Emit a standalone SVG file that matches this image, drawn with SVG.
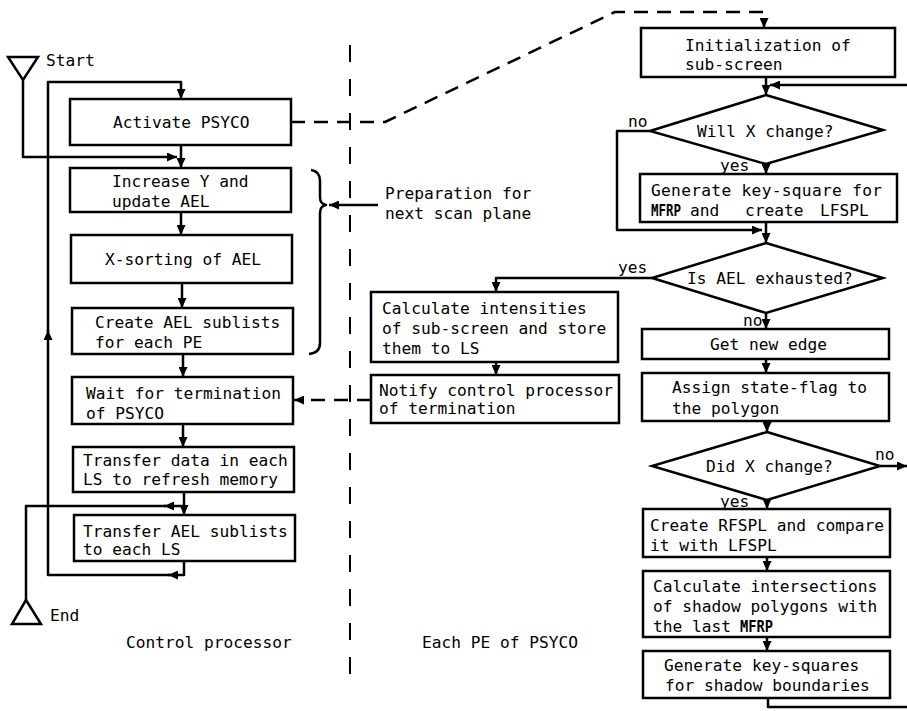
<svg xmlns="http://www.w3.org/2000/svg" width="907" height="711" viewBox="0 0 907 711">
<style>
.box{fill:#fff;stroke:#000;stroke-width:2.5}
.t{font-family:"DejaVu Sans Mono","Liberation Mono",monospace;font-size:16.2px;fill:#000}
.b{font-weight:bold}
.ln{fill:none;stroke:#000;stroke-width:2.5;stroke-linejoin:round}
.ar{marker-end:url(#ah)}
.dash{stroke-dasharray:14 9}
.div{fill:none;stroke:#000;stroke-width:2;stroke-dasharray:17 17}
</style>
<defs>
<marker id="ah" markerUnits="userSpaceOnUse" markerWidth="11" markerHeight="9" refX="10" refY="4.5" orient="auto">
<path d="M0,0 L10,4.5 L0,9 z" fill="#000"/>
</marker>
</defs>
<rect width="907" height="711" fill="#fff"/>
<g id="connectors">
<path class="ln ar" d="M23,80 V157 H177"/>
<path class="ln ar" d="M181,145 V168"/>
<path class="ln ar" d="M181,212 V235"/>
<path class="ln ar" d="M182,283 V308"/>
<path class="ln ar" d="M183,354 V377"/>
<path class="ln ar" d="M183,424 V447"/>
<path class="ln ar" d="M184,492 V515"/>
<path class="ln ar" d="M184,506 H164"/>
<path class="ln" d="M166,506 H26 V600"/>
<path class="ln ar" d="M184,561 V575 H168"/>
<path class="ln ar" d="M170,575 H48 V330"/>
<path class="ln ar" d="M48,332 V82 H181 V99"/>
<path class="ln ar" d="M378,205 H329"/>
<path class="ln dash ar" d="M291,122 H385 L615,12 H764 V28"/>
<path class="ln dash ar" d="M371,400 H294"/>
<path class="ln ar" d="M766,77 V95"/>
<path class="ln ar" d="M907,85 H770"/>
<path class="ln ar" d="M650,131 H617 V230 H762"/>
<path class="ln ar" d="M766,164 V174"/>
<path class="ln ar" d="M766,222 V243"/>
<path class="ln ar" d="M652,278 H496 V292"/>
<path class="ln ar" d="M496,362 V375"/>
<path class="ln ar" d="M766,313 V329"/>
<path class="ln ar" d="M766,359 V373"/>
<path class="ln ar" d="M767,421 V432"/>
<path class="ln ar" d="M880,466 H907"/>
<path class="ln ar" d="M767,500 V509"/>
<path class="ln ar" d="M767,557 V571"/>
<path class="ln ar" d="M767,637 V651"/>
<path class="ln" d="M768,698 V707 H907"/>
</g>
<g id="divider">
<path class="div" d="M350,45 V674"/>
</g>
<g id="start">
<polygon class="box" points="8,57 38,57 23,80"/>
<text class="t" x="46" y="66">Start</text>
</g>
<g id="activate">
<rect class="box" x="70" y="99" width="221" height="46"/>
<text class="t" x="113" y="128">Activate PSYCO</text>
</g>
<g id="increase">
<rect class="box" x="70" y="168" width="221" height="44"/>
<text class="t" x="112" y="187">Increase Y and</text>
<text class="t" x="112" y="207">update AEL</text>
</g>
<g id="xsort">
<rect class="box" x="71" y="235" width="221" height="48"/>
<text class="t" x="105" y="265">X-sorting of AEL</text>
</g>
<g id="createael">
<rect class="box" x="72" y="308" width="221" height="46"/>
<text class="t" x="95" y="328">Create AEL sublists</text>
<text class="t" x="95" y="348">for each PE</text>
</g>
<g id="wait">
<rect class="box" x="72" y="377" width="221" height="47"/>
<text class="t" x="86" y="399">Wait for termination</text>
<text class="t" x="86" y="419">of PSYCO</text>
</g>
<g id="transferdata">
<rect class="box" x="73" y="447" width="221" height="45"/>
<text class="t" x="83" y="466">Transfer data in each</text>
<text class="t" x="83" y="485">LS to refresh  memory</text>
</g>
<g id="transferael">
<rect class="box" x="74" y="515" width="221" height="46"/>
<text class="t" x="83" y="537">Transfer AEL sublists</text>
<text class="t" x="83" y="555">to each LS</text>
</g>
<g id="end">
<polygon class="box" points="26,600 12,624 41,624"/>
<text class="t" x="50" y="621">End</text>
</g>
<g id="label-control">
<text class="t" x="126" y="648">Control processor</text>
</g>
<g id="preparation">
<path class="ln" d="M311,170 Q320,171 320,181 V197 Q320,204 326,205 Q320,206 320,213 V343 Q320,353 309,354"/>
<text class="t" x="385" y="199">Preparation for</text>
<text class="t" x="385" y="219">next scan plane</text>
</g>
<g id="calcint">
<rect class="box" x="371" y="292" width="247" height="70"/>
<text class="t" x="382" y="314">Calculate   intensities</text>
<text class="t" x="382" y="334">of sub-screen and store</text>
<text class="t" x="382" y="354">them to LS</text>
</g>
<g id="notify">
<rect class="box" x="371" y="375" width="248" height="48"/>
<text class="t" x="379" y="396">Notify control processor</text>
<text class="t" x="379" y="414">of termination</text>
</g>
<g id="label-pe">
<text class="t" x="422" y="648">Each PE of PSYCO</text>
</g>
<g id="init">
<rect class="box" x="641" y="28" width="254" height="49"/>
<text class="t" x="685" y="51">Initialization of</text>
<text class="t" x="685" y="70">sub-screen</text>
</g>
<g id="willx">
<polygon class="box" points="766,95 883,130 766,164 650,131"/>
<text class="t" x="697" y="137">Will X change?</text>
<text class="t" x="628" y="127">no</text>
<text class="t" x="720" y="171">yes</text>
</g>
<g id="genkey">
<rect class="box" x="640" y="174" width="257" height="48"/>
<text class="t" x="651" y="196" textLength="231" lengthAdjust="spacing">Generate key-square for</text>
<text class="t b" x="651" y="216" textLength="30" lengthAdjust="spacingAndGlyphs">MFRP</text>
<text class="t" x="690" y="216">and</text>
<text class="t" x="745" y="216">create</text>
<text class="t" x="820" y="216">LFSPL</text>
</g>
<g id="isael">
<polygon class="box" points="766,243 883,278 766,313 652,278"/>
<text class="t" x="687" y="284">Is AEL exhausted?</text>
<text class="t" x="618" y="273">yes</text>
<text class="t" x="743" y="326">no</text>
</g>
<g id="getedge">
<rect class="box" x="642" y="329" width="247" height="30"/>
<text class="t" x="710" y="350">Get new edge</text>
</g>
<g id="assign">
<rect class="box" x="642" y="373" width="247" height="48"/>
<text class="t" x="672" y="393">Assign state-flag to</text>
<text class="t" x="672" y="414">the polygon</text>
</g>
<g id="didx">
<polygon class="box" points="767,432 880,466 767,500 652,466"/>
<text class="t" x="706" y="472">Did X change?</text>
<text class="t" x="875" y="460">no</text>
<text class="t" x="720" y="507">yes</text>
</g>
<g id="createrf">
<rect class="box" x="643" y="509" width="247" height="48"/>
<text class="t" x="650" y="531">Create RFSPL and compare</text>
<text class="t" x="650" y="551">it with LFSPL</text>
</g>
<g id="calcinter">
<rect class="box" x="643" y="571" width="247" height="66"/>
<text class="t" x="653" y="592">Calculate intersections</text>
<text class="t" x="653" y="612">of shadow polygons with</text>
<text class="t" x="653" y="632">the last</text>
<text class="t b" x="740" y="632" textLength="33" lengthAdjust="spacingAndGlyphs">MFRP</text>
</g>
<g id="genks">
<rect class="box" x="643" y="651" width="247" height="47"/>
<text class="t" x="664" y="671">Generate</text>
<text class="t" x="752" y="671">key-squares</text>
<text class="t" x="665" y="691">for shadow boundaries</text>
</g>
</svg>
